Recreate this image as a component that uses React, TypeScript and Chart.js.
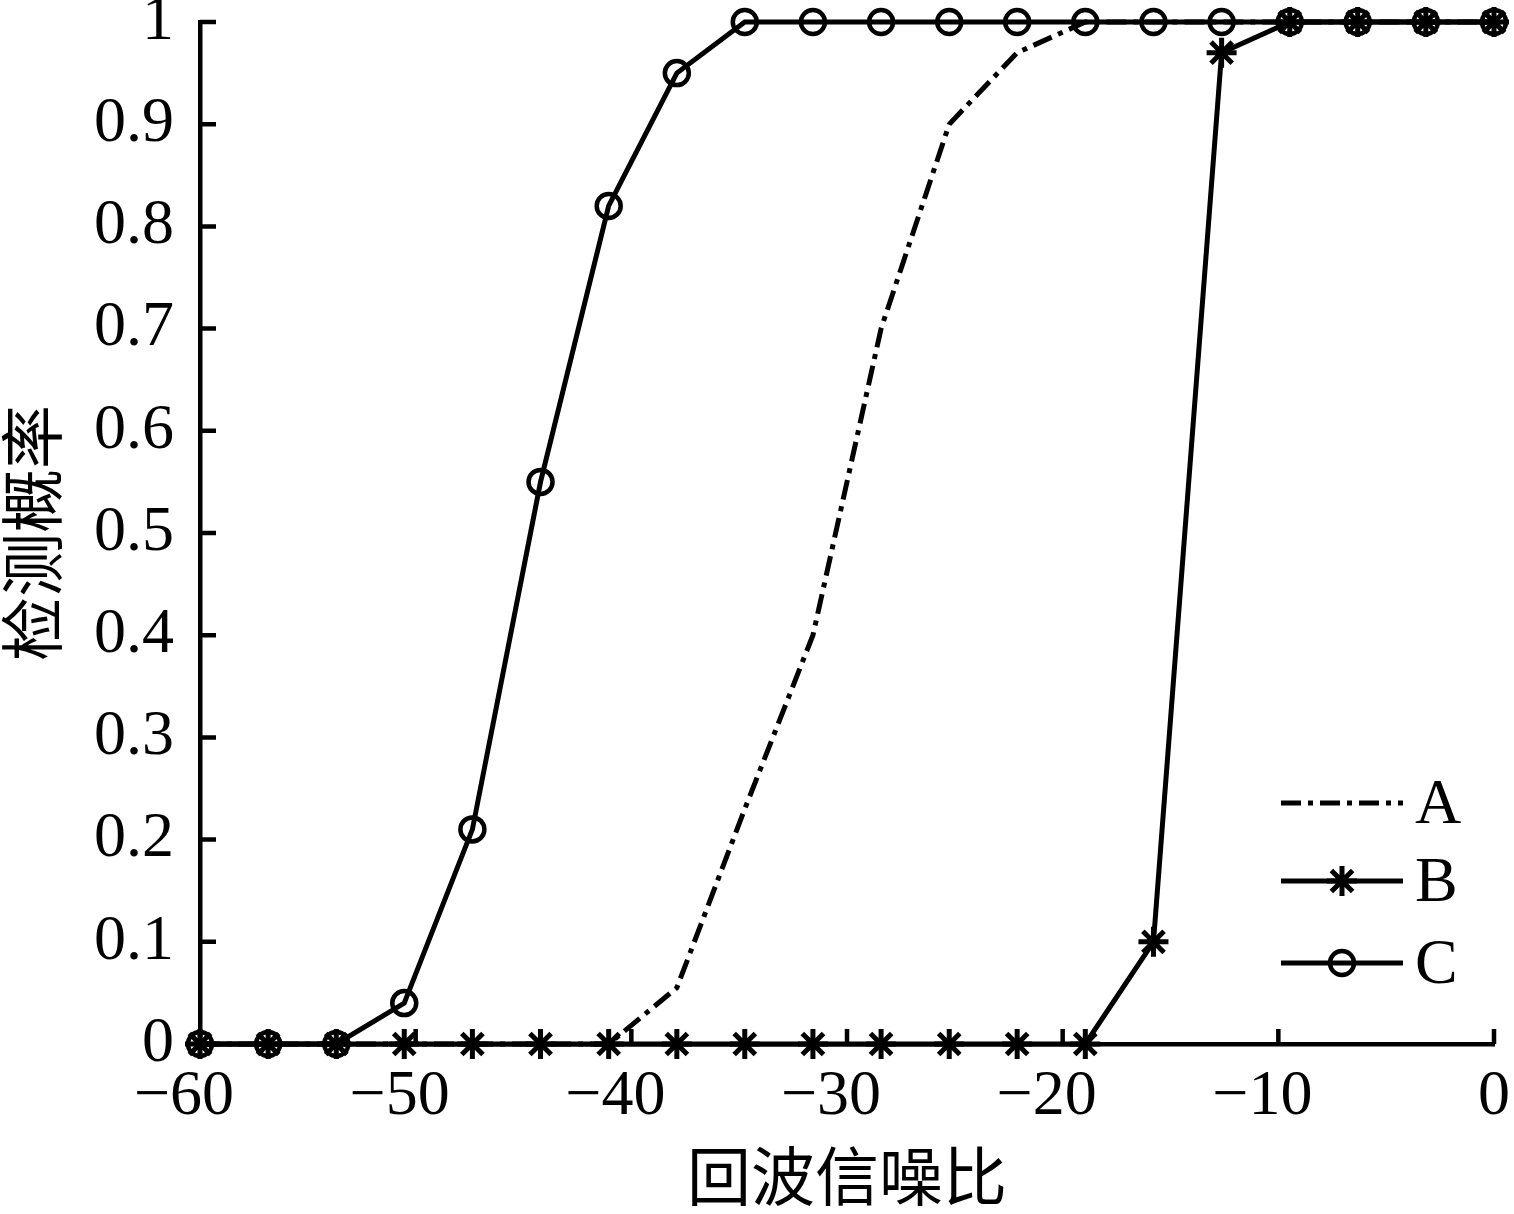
import React, { useEffect, useRef } from "react";
import { Chart, registerables } from "chart.js";

Chart.register(...registerables);

const snr = [-60, -56.84, -53.68, -50.53, -47.37, -44.21, -41.05, -37.89, -34.74, -31.58, -28.42, -25.26, -22.11, -18.95, -15.79, -12.63, -9.47, -6.32, -3.16, 0];
const seriesA = [0, 0, 0, 0, 0, 0, 0, 0.055, 0.23, 0.4, 0.7, 0.9, 0.97, 1, 1, 1, 1, 1, 1, 1];
const seriesB = [0, 0, 0, 0, 0, 0, 0, 0, 0, 0, 0, 0, 0, 0, 0.1, 0.97, 1, 1, 1, 1];
const seriesC = [0, 0, 0, 0.04, 0.21, 0.55, 0.82, 0.95, 1, 1, 1, 1, 1, 1, 1, 1, 1, 1, 1, 1];
const seriesNames = ["A", "B", "C"];
const xTicks = [-60, -50, -40, -30, -20, -10, 0];
const yTicks = [0, 0.1, 0.2, 0.3, 0.4, 0.5, 0.6, 0.7, 0.8, 0.9, 1];
const xTitle = "回波信噪比";
const yTitle = "检测概率";

const SERIF = "'Liberation Serif', 'Times New Roman', serif";
const CJK = "'Noto Sans CJK SC', 'Noto Sans CJK JP', sans-serif";
const DASH = [20, 7, 5, 7];
const LW = 5;

function pts(ys: number[]) {
  return snr.map((x, i) => ({ x, y: ys[i] }));
}

// MATLAB-style: digits centred on the tick, minus sign hanging to the left
function fmtX(v: number) {
  return v < 0 ? "\u2212" + Math.abs(v) + "\u2002" : String(v);
}

const inwardTicks = {
  id: "inwardTicks",
  beforeDatasetsDraw(chart: any) {
    const { ctx, chartArea } = chart;
    const xs = chart.scales.x;
    const ys = chart.scales.y;
    ctx.save();
    ctx.strokeStyle = "#000";
    ctx.lineWidth = 4.5;
    ctx.beginPath();
    xTicks.forEach((t) => {
      const px = xs.getPixelForValue(t);
      ctx.moveTo(px, chartArea.bottom);
      ctx.lineTo(px, chartArea.bottom - 15);
    });
    yTicks.forEach((t) => {
      const py = ys.getPixelForValue(t);
      ctx.moveTo(chartArea.left, py);
      ctx.lineTo(chartArea.left + 16, py);
    });
    ctx.stroke();
    ctx.restore();
  },
};

function drawStar(ctx: CanvasRenderingContext2D, x: number, y: number, r: number) {
  ctx.beginPath();
  for (let k = 0; k < 4; k++) {
    const a = (k * Math.PI) / 4;
    ctx.moveTo(x - r * Math.cos(a), y - r * Math.sin(a));
    ctx.lineTo(x + r * Math.cos(a), y + r * Math.sin(a));
  }
  ctx.stroke();
}

const customLegend = {
  id: "customLegend",
  afterDraw(chart: any) {
    const { ctx, chartArea } = chart;
    const x0 = chartArea.right - 213;
    const x1 = chartArea.right - 91;
    const tx = chartArea.right - 79;
    const rows = [chartArea.bottom - 241, chartArea.bottom - 163, chartArea.bottom - 81];
    ctx.save();
    ctx.strokeStyle = "#000";
    ctx.fillStyle = "#000";
    rows.forEach((y, i) => {
      ctx.lineWidth = LW;
      ctx.beginPath();
      ctx.setLineDash(i === 0 ? DASH : []);
      ctx.moveTo(x0, y);
      ctx.lineTo(x1, y);
      ctx.stroke();
      ctx.setLineDash([]);
      const cx = (x0 + x1) / 2;
      ctx.lineWidth = 5;
      if (i === 1) drawStar(ctx, cx, y, 15);
      if (i === 2) {
        ctx.lineWidth = 4.5;
        ctx.beginPath();
        ctx.arc(cx, y, 12, 0, Math.PI * 2);
        ctx.stroke();
      }
      ctx.font = `64px ${SERIF}`;
      ctx.textAlign = "left";
      ctx.textBaseline = "middle";
      ctx.fillText(seriesNames[i], tx, y + 3);
    });
    ctx.restore();
  },
};

export default function App() {
  const ref = useRef<HTMLCanvasElement | null>(null);
  useEffect(() => {
    if (!ref.current) return;
    const chart = new Chart(ref.current, {
      type: "line",
      data: {
        datasets: [
          {
            label: seriesNames[0],
            data: pts(seriesA),
            borderColor: "#000",
            borderWidth: LW,
            borderDash: DASH,
            pointRadius: 0,
            tension: 0,
            fill: false,
            clip: false as any,
          },
          {
            label: seriesNames[1],
            data: pts(seriesB),
            borderColor: "#000",
            borderWidth: LW,
            pointStyle: "star",
            pointRadius: 15,
            pointBorderWidth: 5,
            pointBorderColor: "#000",
            pointBackgroundColor: "#000",
            tension: 0,
            fill: false,
            clip: false as any,
          },
          {
            label: seriesNames[2],
            data: pts(seriesC),
            borderColor: "#000",
            borderWidth: LW,
            pointStyle: "circle",
            pointRadius: 12,
            pointBorderWidth: 4.5,
            pointBorderColor: "#000",
            pointBackgroundColor: "rgba(0,0,0,0)",
            tension: 0,
            fill: false,
            clip: false as any,
          },
        ],
      },
      options: {
        responsive: false,
        animation: false,
        devicePixelRatio: 1,
        layout: { padding: { left: 0, right: 17, top: 22, bottom: 0 } },
        plugins: {
          legend: { display: false },
          tooltip: { enabled: false },
        },
        scales: {
          x: {
            type: "linear",
            min: -60,
            max: 0,
            afterBuildTicks(scale: any) {
              scale.ticks = xTicks.map((v) => ({ value: v }));
            },
            afterFit(scale: any) {
              scale.height = 170;
              scale.paddingLeft = 0;
              scale.paddingRight = 0;
            },
            grid: { display: false },
            border: { display: true, color: "#000", width: 4.5 },
            ticks: {
              color: "#000",
              padding: 7,
              maxRotation: 0,
              autoSkip: false,
              font: { family: SERIF, size: 64 },
              callback: (v: any) => fmtX(Number(v)),
            },
            title: {
              display: true,
              text: xTitle,
              color: "#000",
              font: { family: CJK, size: 64, lineHeight: 1 },
              padding: { top: 0, bottom: 6 },
            },
          },
          y: {
            type: "linear",
            min: 0,
            max: 1,
            afterBuildTicks(scale: any) {
              scale.ticks = yTicks.map((v) => ({ value: v }));
            },
            afterFit(scale: any) {
              scale.width = 200;
              scale.paddingTop = 0;
              scale.paddingBottom = 0;
            },
            grid: { display: false },
            border: { display: true, color: "#000", width: 4.5 },
            ticks: {
              color: "#000",
              padding: 18,
              autoSkip: false,
              font: { family: SERIF, size: 64 },
              callback: (v: any) => String(Number(Number(v).toFixed(1))),
            },
            title: {
              display: true,
              text: yTitle,
              color: "#000",
              font: { family: CJK, size: 64, lineHeight: 1 },
              padding: { top: 0, bottom: 0 },
            },
          },
        },
      },
      plugins: [inwardTicks, customLegend],
    });
    return () => chart.destroy();
  }, []);
  return (
    <div style={{ position: "absolute", left: 0, top: 0, width: 1514, height: 1214, background: "#fff" }}>
      <canvas ref={ref} width={1514} height={1214} style={{ display: "block" }} />
    </div>
  );
}
